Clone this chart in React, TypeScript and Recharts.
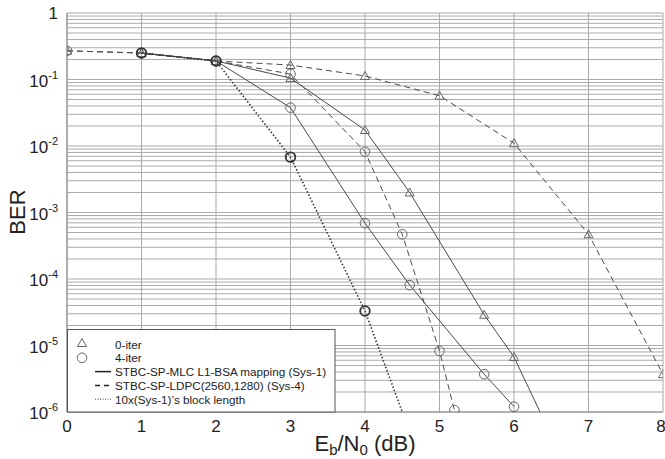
import React from 'react';
import { ComposedChart, Line, XAxis, YAxis, CartesianGrid } from 'recharts';

// ---- tick values ----
const xTicks = [0, 1, 2, 3, 4, 5, 6, 7, 8];
const decadeTicks = [1e-6, 1e-5, 1e-4, 1e-3, 1e-2, 1e-1, 1];
const minorMultipliers = [2, 3, 4, 5, 6, 7, 8, 9];

// ---- series (Eb/N0 in dB, BER) ----
// Sys-4 : STBC-SP-LDPC(2560,1280), dashed
const sys4Iter0 = [
  { eb: 0, ber: 0.27 },
  { eb: 1, ber: 0.25 },
  { eb: 2, ber: 0.19 },
  { eb: 3, ber: 0.165 },
  { eb: 4, ber: 0.113 },
  { eb: 5, ber: 0.057 },
  { eb: 6, ber: 0.011 },
  { eb: 7, ber: 4.7e-4 },
  { eb: 8, ber: 3.7e-6 },
];
const sys4Iter4 = [
  { eb: 0, ber: 0.27 },
  { eb: 1, ber: 0.25 },
  { eb: 2, ber: 0.19 },
  { eb: 3, ber: 0.121 },
  { eb: 4, ber: 0.0082 },
  { eb: 4.5, ber: 4.7e-4 },
  { eb: 5, ber: 8.3e-6 },
  { eb: 5.2, ber: 1.07e-6 },
];
// Sys-1 : STBC-SP-MLC L1-BSA mapping, solid
const sys1Iter0 = [
  { eb: 1, ber: 0.25 },
  { eb: 2, ber: 0.19 },
  { eb: 3, ber: 0.105 },
  { eb: 4, ber: 0.0174 },
  { eb: 4.6, ber: 2.0e-3 },
  { eb: 5.6, ber: 2.9e-5 },
  { eb: 6, ber: 6.7e-6 },
];
const sys1Iter0AxisExit = [{ eb: 6.35, ber: 1e-6 }];
const sys1Iter4 = [
  { eb: 1, ber: 0.25 },
  { eb: 2, ber: 0.19 },
  { eb: 3, ber: 0.0377 },
  { eb: 4, ber: 6.9e-4 },
  { eb: 4.6, ber: 8.1e-5 },
  { eb: 5.6, ber: 3.7e-6 },
  { eb: 6, ber: 1.2e-6 },
];
// 10x (Sys-1)'s block length, dotted, 4-iter
const longBlockIter4 = [
  { eb: 1, ber: 0.25 },
  { eb: 2, ber: 0.19 },
  { eb: 3, ber: 6.8e-3 },
  { eb: 4, ber: 3.3e-5 },
];
const longBlockAxisExit = [{ eb: 4.5, ber: 1e-6 }];

const yTicks: number[] = [];
decadeTicks.forEach((d) => {
  yTicks.push(d);
  if (d < 1) minorMultipliers.forEach((m) => yTicks.push(Number((m * d).toPrecision(3))));
});
yTicks.sort((a, b) => a - b);

const FONT = '"Liberation Sans", Arial, Helvetica, sans-serif';
const LINE = '#4a4a4a';

const Triangle = ({ cx, cy, color = '#666', sw = 1 }: any) => (
  <path
    d={`M${cx},${cy - 4.5} L${cx + 4.5},${cy + 3.5} L${cx - 4.5},${cy + 3.5} Z`}
    fill="none"
    stroke={color}
    strokeWidth={sw}
  />
);
const Circle = ({ cx, cy, color = '#666', sw = 1 }: any) => (
  <circle cx={cx} cy={cy} r={4.8} fill="none" stroke={color} strokeWidth={sw} />
);

const makeDot = (kind: 'tri' | 'circ', count: number, color?: string, sw?: number) => (props: any) => {
  const { cx, cy, index } = props;
  if (index >= count || cx == null || cy == null) return <g key={`e${index}`} />;
  return (
    <g key={`m${index}`}>
      {kind === 'tri' ? (
        <Triangle cx={cx} cy={cy} color={color} sw={sw} />
      ) : (
        <Circle cx={cx} cy={cy} color={color} sw={sw} />
      )}
    </g>
  );
};

const YTick = (props: any) => {
  const { y, payload } = props;
  const v = payload.value as number;
  const lg = Math.log10(v);
  if (Math.abs(lg - Math.round(lg)) > 1e-6) return <g />;
  const e = Math.round(lg);
  if (e === 0) {
    return (
      <text x={58} y={y + 6} textAnchor="end" fontSize={17} fontFamily={FONT} fill="#222">
        1
      </text>
    );
  }
  return (
    <text x={58} y={y + 7} textAnchor="end" fontSize={17} fontFamily={FONT} fill="#222">
      10
      <tspan dy={-8} fontSize={11}>
        {String(e)}
      </tspan>
    </text>
  );
};

const XTick = (props: any) => {
  const { x, payload } = props;
  return (
    <text x={x} y={432} textAnchor="middle" fontSize={17} fontFamily={FONT} fill="#222">
      {payload.value}
    </text>
  );
};

const legendItems = [
  { kind: 'tri', label: '0-iter' },
  { kind: 'circ', label: '4-iter' },
  { kind: 'solid', label: 'STBC-SP-MLC L1-BSA mapping (Sys-1)' },
  { kind: 'dash', label: 'STBC-SP-LDPC(2560,1280) (Sys-4)' },
  { kind: 'dot', label: '10x(Sys-1)\u2019s block length' },
];

export default function App() {
  return (
    <div style={{ position: 'absolute', left: 0, top: 0, width: 665, height: 459, background: '#fff' }}>
      <ComposedChart width={665} height={459} margin={{ top: 13, right: 2, left: 0, bottom: 0 }}>
        <CartesianGrid stroke="#aaaaaa" strokeWidth={1} />
        <XAxis
          dataKey="eb"
          type="number"
          domain={[0, 8]}
          ticks={xTicks}
          height={47}
          tick={<XTick />}
          tickLine={false}
          axisLine={{ stroke: '#888' }}
          allowDataOverflow
        />
        <YAxis
          dataKey="ber"
          type="number"
          scale="log"
          domain={[1e-6, 1]}
          ticks={yTicks}
          width={67}
          tick={<YTick />}
          tickLine={false}
          axisLine={{ stroke: '#888' }}
          interval={0}
          allowDataOverflow
        />
        <Line
          data={sys4Iter0}
          dataKey="ber"
          stroke={LINE}
          strokeWidth={1}
          strokeDasharray="6 4"
          dot={makeDot('tri', sys4Iter0.length)}
          isAnimationActive={false}
        />
        <Line
          data={sys4Iter4}
          dataKey="ber"
          stroke={LINE}
          strokeWidth={1}
          strokeDasharray="6 4"
          dot={makeDot('circ', sys4Iter4.length)}
          isAnimationActive={false}
        />
        <Line
          data={[...sys1Iter0, ...sys1Iter0AxisExit]}
          dataKey="ber"
          stroke={LINE}
          strokeWidth={1}
          dot={makeDot('tri', sys1Iter0.length)}
          isAnimationActive={false}
        />
        <Line
          data={sys1Iter4}
          dataKey="ber"
          stroke={LINE}
          strokeWidth={1}
          dot={makeDot('circ', sys1Iter4.length)}
          isAnimationActive={false}
        />
        <Line
          data={[...longBlockIter4, ...longBlockAxisExit]}
          dataKey="ber"
          stroke="#333"
          strokeWidth={1.6}
          strokeDasharray="1.5 2"
          dot={makeDot('circ', longBlockIter4.length, '#333', 1.8)}
          isAnimationActive={false}
        />
      </ComposedChart>
      <svg
        width={665}
        height={459}
        style={{ position: 'absolute', left: 0, top: 0, pointerEvents: 'none' }}
      >
        <text
          x={0}
          y={0}
          transform="translate(25,212) rotate(-90)"
          textAnchor="middle"
          fontSize={22}
          fontFamily={FONT}
          fill="#222"
        >
          BER
        </text>
        <text x={365} y={451} textAnchor="middle" fontSize={22} fontFamily={FONT} fill="#222">
          E
          <tspan fontSize={15} dy={4}>b</tspan>
          <tspan fontSize={22} dy={-4}>/N</tspan>
          <tspan fontSize={15} dy={4}>0</tspan>
          <tspan fontSize={22} dy={-4}> (dB)</tspan>
        </text>
        <rect x={67.5} y={329.5} width={267.5} height={82.5} fill="#fff" stroke="#555" strokeWidth={1} />
        {legendItems.map((it, i) => {
          const y = 344 + i * 13.8;
          let sym: React.ReactNode = null;
          if (it.kind === 'tri') sym = <Triangle cx={82} cy={y - 1} color="#666" />;
          if (it.kind === 'circ') sym = <Circle cx={82} cy={y} color="#666" />;
          if (it.kind === 'solid') sym = <line x1={95} x2={111} y1={y} y2={y} stroke="#222" strokeWidth={1.5} />;
          if (it.kind === 'dash')
            sym = <line x1={95} x2={111} y1={y} y2={y} stroke="#222" strokeWidth={1.5} strokeDasharray="5 4" />;
          if (it.kind === 'dot')
            sym = <line x1={95} x2={111} y1={y} y2={y} stroke="#444" strokeWidth={1} strokeDasharray="1 1.5" />;
          return (
            <g key={i}>
              {sym}
              <text x={115} y={y + 4.5} fontSize={11.7} fontFamily={FONT} fill="#222">
                {it.label}
              </text>
            </g>
          );
        })}
      </svg>
    </div>
  );
}
